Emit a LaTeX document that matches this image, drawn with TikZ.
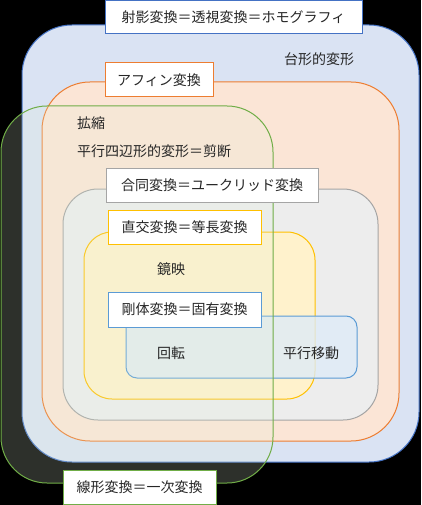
\documentclass[tikz,border=0pt]{standalone}
\usepackage{fontspec}
\setmainfont{Noto Sans CJK JP}
\definecolor{bgblack}{HTML}{000000}
\definecolor{projfill}{HTML}{DAE3F3}
\definecolor{projline}{HTML}{4472C4}
\definecolor{afffill}{HTML}{FBE5D6}
\definecolor{affline}{HTML}{ED7D31}
\definecolor{eucfill}{HTML}{EDEDED}
\definecolor{eucline}{HTML}{A5A5A5}
\definecolor{orthfill}{HTML}{FFF2CC}
\definecolor{orthline}{HTML}{FFC000}
\definecolor{rigfill}{HTML}{DEEBF7}
\definecolor{rigline}{HTML}{5B9BD5}
\definecolor{linfill}{HTML}{E2F0D9}
\definecolor{linline}{HTML}{70AD47}
\definecolor{txt}{HTML}{262626}
\tikzset{
  region/.style={line width=1pt},
  labelbox/.style={draw, fill=white, line width=1pt, text=txt, inner sep=0pt,
    font=\fontsize{14}{16}\selectfont},
  plain/.style={text=txt, inner sep=0pt, anchor=west, font=\fontsize{14}{16}\selectfont},
}
\begin{document}
\begin{tikzpicture}[x=1pt,y=-1pt]
\fill[bgblack] (0,0) rectangle (421,505);
\useasboundingbox (0,0) rectangle (421,505);
% regions
\draw[region, draw=projline, fill=projfill, rounded corners=50pt] (22,25) rectangle (419,462);
\draw[region, draw=affline, fill=afffill, rounded corners=48pt] (42,82) rectangle (399,441);
\draw[region, draw=eucline, fill=eucfill, rounded corners=35pt] (63,189) rectangle (378,420);
\draw[region, draw=orthline, fill=orthfill, rounded corners=28pt] (84,232) rectangle (315,399);
\draw[region, draw=rigline, fill=rigfill, fill opacity=0.8, rounded corners=11pt] (126,316) rectangle (357,378);
\draw[region, draw=linline, fill=linfill, fill opacity=0.2, rounded corners=46pt] (1,106) rectangle (273,483);
% plain texts
\node[plain] (trap) at (284,59) {台形的変形};
\node[plain] (scale) at (77,123) {拡縮};
\node[plain] (shear) at (77,151) {平行四辺形的変形＝剪断};
\node[plain] (refl) at (157,269) {鏡映};
\node[plain] (rot) at (157,353) {回転};
\node[plain] (trans) at (283,353) {平行移動};
% label boxes
\node[labelbox, draw=projline, minimum width=257pt, minimum height=33pt] (proj) at (233.5,17.5) {射影変換＝透視変換＝ホモグラフィ};
\node[labelbox, draw=affline, minimum width=108pt, minimum height=34pt] (aff) at (159,80) {アフィン変換};
\node[labelbox, draw=eucline, minimum width=212pt, minimum height=34pt] (euc) at (212,185) {合同変換＝ユークリッド変換};
\node[labelbox, draw=orthline, minimum width=153pt, minimum height=34pt] (orth) at (184.5,227) {直交変換＝等長変換};
\node[labelbox, draw=rigline, minimum width=153pt, minimum height=35pt] (rig) at (184.5,309.5) {剛体変換＝固有変換};
\node[labelbox, draw=linline, minimum width=153pt, minimum height=34pt] (lin) at (139.5,487) {線形変換＝一次変換};
\end{tikzpicture}
\end{document}
